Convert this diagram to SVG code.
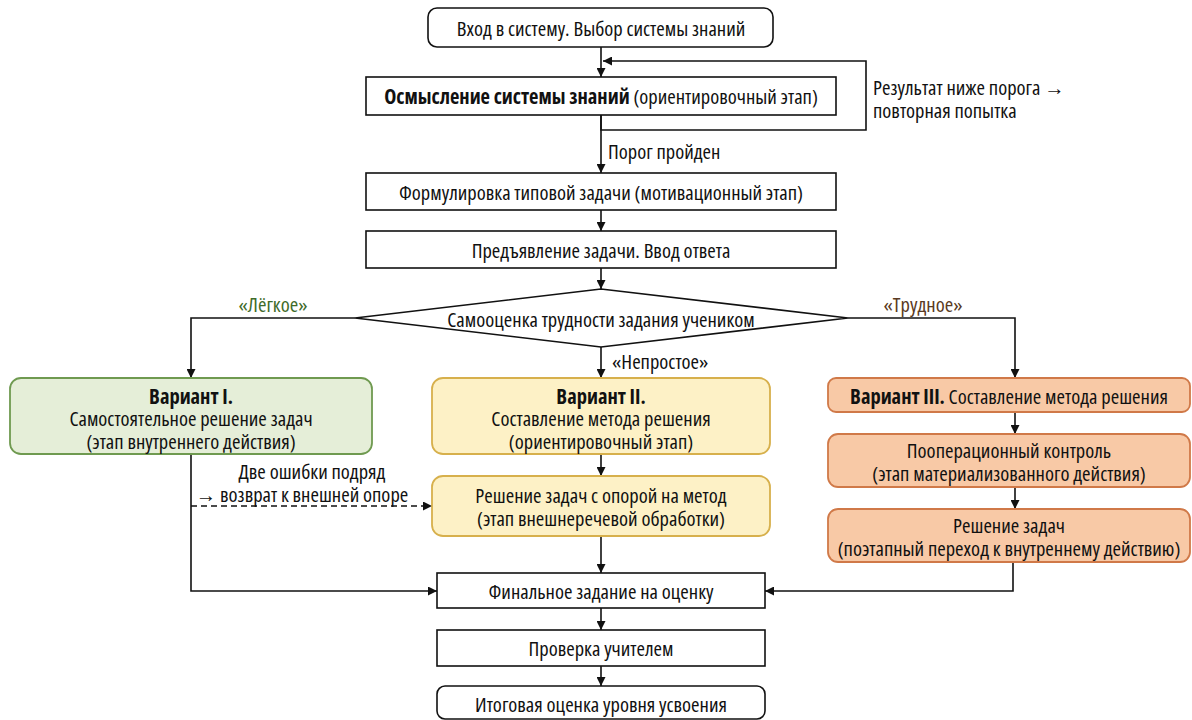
<svg xmlns="http://www.w3.org/2000/svg" width="1192" height="720" viewBox="0 0 1192 720">
<defs>
<marker id="ah" viewBox="0 0 10 10" refX="10" refY="5" markerWidth="9" markerHeight="9" markerUnits="userSpaceOnUse" orient="auto">
<path d="M0,0 L10,5 L0,10 z" fill="#111"/>
</marker>
</defs>
<style>
text{font-family:"Open Sans","Liberation Sans",sans-serif;font-stretch:condensed;font-size:20.5px;fill:#111;text-anchor:middle;dominant-baseline:central}
.b{font-weight:bold}
.l{text-anchor:start}
.box{fill:#fff;stroke:#111;stroke-width:1.6}
.g{fill:#e5eed8;stroke:#6f9a50;stroke-width:1.8}
.y{fill:#fdf1c6;stroke:#d7b04c;stroke-width:1.8}
.o{fill:#f8c9a6;stroke:#d07948;stroke-width:1.8}
.c{fill:none;stroke:#111;stroke-width:1.6}
.d{stroke-dasharray:6 4}
</style>
<rect width="1192" height="720" fill="#fff"/>
<g id="connectors">
<path class="c" d="M601,47 V77" marker-end="url(#ah)"/>
<path class="c" d="M601,115 V130 H866 V61 H603" marker-end="url(#ah)"/>
<path class="c" d="M601,115 V173" marker-end="url(#ah)"/>
<path class="c" d="M601,210 V231" marker-end="url(#ah)"/>
<path class="c" d="M601,268 V289" marker-end="url(#ah)"/>
<path class="c" d="M355,318 H191 V378" marker-end="url(#ah)"/>
<path class="c" d="M848,318 H1015 V378" marker-end="url(#ah)"/>
<path class="c" d="M601,347 V378" marker-end="url(#ah)"/>
<path class="c" d="M601,454 V476" marker-end="url(#ah)"/>
<path class="c" d="M601,536 V573" marker-end="url(#ah)"/>
<path class="c" d="M191,454 V591 H437" marker-end="url(#ah)"/>
<path class="c d" d="M191,506 H432" marker-end="url(#ah)"/>
<path class="c" d="M1015,412 V434" marker-end="url(#ah)"/>
<path class="c" d="M1015,487 V509" marker-end="url(#ah)"/>
<path class="c" d="M1013,562 V591 H765" marker-end="url(#ah)"/>
<path class="c" d="M601,608 V630" marker-end="url(#ah)"/>
<path class="c" d="M601,666 V686" marker-end="url(#ah)"/>
<text class="l" x="873" y="87">Результат ниже порога →</text>
<text class="l" x="873" y="110">повторная попытка</text>
<text class="l" x="608" y="151">Порог пройден</text>
<text x="273" y="304" style="fill:#3f6b2a">«Лёгкое»</text>
<text x="923" y="304" style="fill:#5a3a22">«Трудное»</text>
<text class="l" x="612" y="361">«Непростое»</text>
<text x="312" y="471">Две ошибки подряд</text>
<text x="302" y="494">→ возврат к внешней опоре</text>
</g>
<g id="start"><rect class="box" x="428" y="8" width="345" height="39" rx="9"/><text x="601" y="28">Вход в систему. Выбор системы знаний</text></g>
<g id="comprehension"><rect class="box" x="366" y="77" width="470" height="38"/><text x="601" y="96"><tspan class="b">Осмысление системы знаний</tspan> (ориентировочный этап)</text></g>
<g id="formulation"><rect class="box" x="366" y="173" width="470" height="37"/><text x="601" y="192">Формулировка типовой задачи (мотивационный этап)</text></g>
<g id="presentation"><rect class="box" x="366" y="231" width="470" height="37"/><text x="601" y="250">Предъявление задачи. Ввод ответа</text></g>
<g id="decision"><polygon class="box" points="355,318 601,289 848,318 601,347"/><text x="601" y="319">Самооценка трудности задания учеником</text></g>
<g id="variant1"><rect class="g" x="10" y="378" width="362" height="76" rx="11"/><text class="b" x="191" y="396">Вариант I.</text><text x="191" y="418">Самостоятельное решение задач</text><text x="191" y="441">(этап внутреннего действия)</text></g>
<g id="variant2"><rect class="y" x="432" y="378" width="338" height="76" rx="11"/><text class="b" x="601" y="396">Вариант II.</text><text x="601" y="418">Составление метода решения</text><text x="601" y="441">(ориентировочный этап)</text></g>
<g id="variant2b"><rect class="y" x="432" y="476" width="338" height="60" rx="11"/><text x="601" y="495">Решение задач с опорой на метод</text><text x="601" y="518">(этап внешнеречевой обработки)</text></g>
<g id="variant3"><rect class="o" x="828" y="378" width="362" height="34" rx="8"/><text x="1009" y="396"><tspan class="b">Вариант III.</tspan> Составление метода решения</text></g>
<g id="variant3b"><rect class="o" x="828" y="434" width="362" height="53" rx="10"/><text x="1009" y="450">Пооперационный контроль</text><text x="1009" y="473">(этап материализованного действия)</text></g>
<g id="variant3c"><rect class="o" x="828" y="509" width="362" height="53" rx="10"/><text x="1009" y="525">Решение задач</text><text x="1009" y="548">(поэтапный переход к внутреннему действию)</text></g>
<g id="final"><rect class="box" x="437" y="573" width="328" height="35"/><text x="601" y="591">Финальное задание на оценку</text></g>
<g id="check"><rect class="box" x="437" y="630" width="328" height="36"/><text x="601" y="648">Проверка учителем</text></g>
<g id="result"><rect class="box" x="437" y="686" width="328" height="33" rx="8"/><text x="601" y="704">Итоговая оценка уровня усвоения</text></g>
</svg>
